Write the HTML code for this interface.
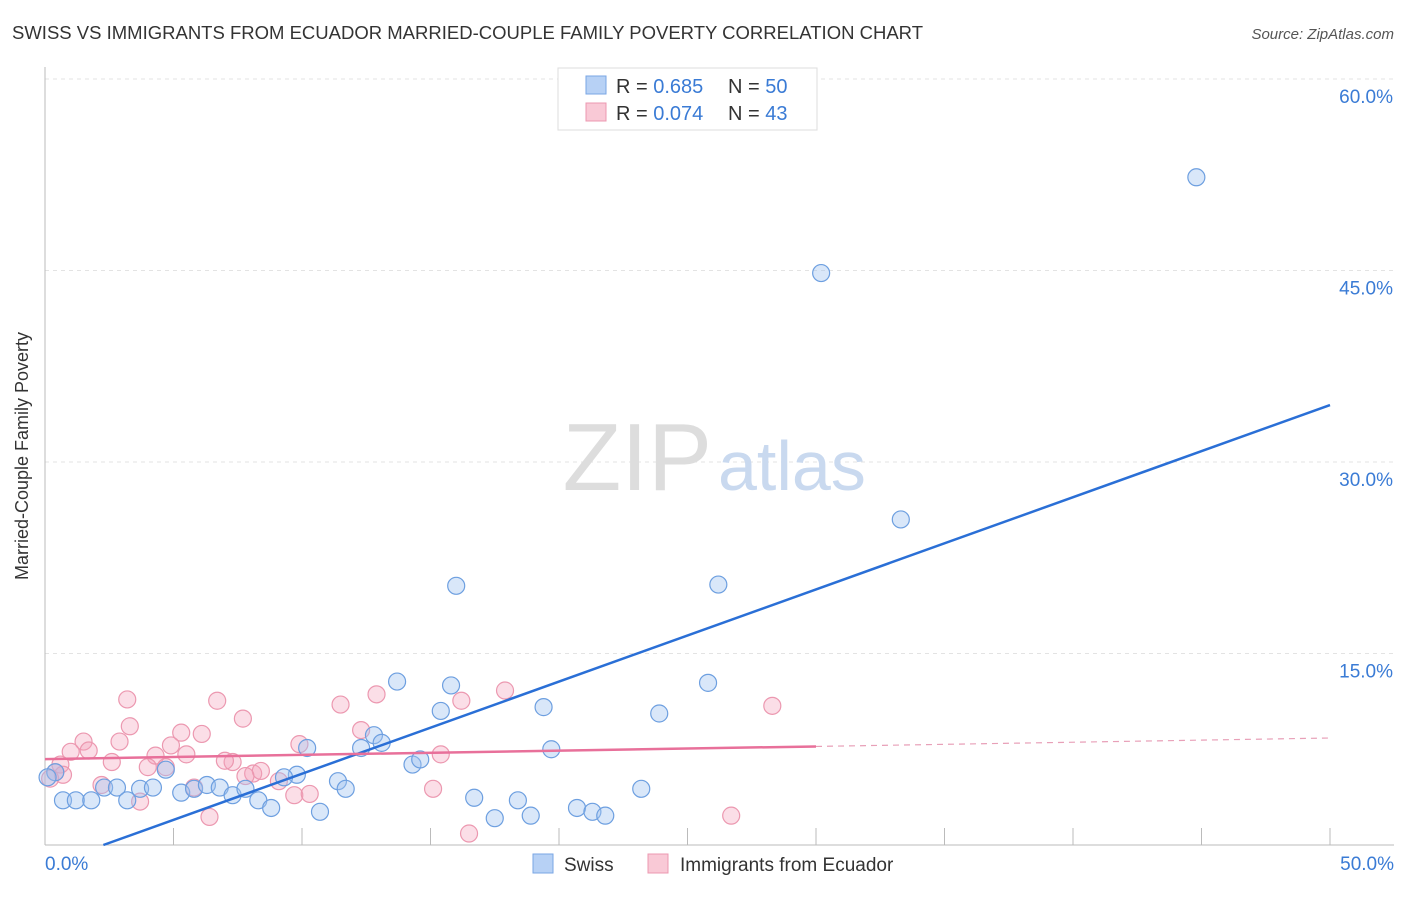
<!DOCTYPE html>
<html><head><meta charset="utf-8"><style>
body{margin:0;background:#fff;font-family:"Liberation Sans",sans-serif}
svg text{font-family:"Liberation Sans",sans-serif}
</style></head><body>
<svg width="1406" height="892">
<text x="12" y="39" font-size="18" fill="#333" textLength="911" lengthAdjust="spacingAndGlyphs">SWISS VS IMMIGRANTS FROM ECUADOR MARRIED-COUPLE FAMILY POVERTY CORRELATION CHART</text>
<text x="1394" y="39" font-size="15" fill="#555" font-style="italic" text-anchor="end">Source: ZipAtlas.com</text>
<g id="grid"></g>
<text x="712" y="490" font-size="96" fill="#ddd" font-family="Liberation Serif" text-anchor="end">ZIP</text>
<text x="718" y="490" font-size="70" fill="#c9d9ef">atlas</text>
<g id="marks"></g>
<text x="28" y="456" font-size="18" fill="#333" text-anchor="middle" transform="rotate(-90 28 456)">Married-Couple Family Poverty</text>
<g>
<rect x="558" y="68" width="259" height="62" fill="#fff" stroke="#ddd"/>
<rect x="586" y="76" width="20" height="18" fill="#b7d1f5" stroke="#7aa6e4"/>
<text x="616" y="93" font-size="20" fill="#333">R = <tspan fill="#3a7bd5">0.685</tspan></text>
<text x="728" y="93" font-size="20" fill="#333">N = <tspan fill="#3a7bd5">50</tspan></text>
<rect x="586" y="103" width="20" height="18" fill="#f9c9d6" stroke="#ec98b0"/>
<text x="616" y="120" font-size="20" fill="#333">R = <tspan fill="#3a7bd5">0.074</tspan></text>
<text x="728" y="120" font-size="20" fill="#333">N = <tspan fill="#3a7bd5">43</tspan></text>
</g>
<g>
<rect x="533" y="854" width="20" height="19" fill="#b7d1f5" stroke="#7aa6e4"/>
<text x="564" y="871" font-size="19" fill="#333">Swiss</text>
<rect x="648" y="854" width="20" height="19" fill="#f9c9d6" stroke="#ec98b0"/>
<text x="680" y="871" font-size="19" fill="#333">Immigrants from Ecuador</text>
</g>
</svg>
<script>
const yTicks=[15,30,45,60];
const yTickLabels=["15.0%","30.0%","45.0%","60.0%"];
const xEndLabels=["0.0%","50.0%"];
const swissX=[44.8,30.2,33.3,16.0,26.2,13.7,15.8,25.8,15.4,19.4,23.9,12.8,13.1,10.2,12.3,19.7,14.3,14.6,4.7,9.8,9.3,11.4,11.7,23.2,0.4,0.1,0.7,1.2,1.8,2.3,2.8,3.2,3.7,4.2,5.3,5.8,6.3,6.8,7.3,7.8,8.3,8.8,10.7,16.7,18.4,17.5,18.9,20.7,21.3,21.8];
const swissY=[52.3,44.8,25.5,20.3,20.4,12.8,12.5,12.7,10.5,10.8,10.3,8.6,8.0,7.6,7.6,7.5,6.3,6.7,5.9,5.5,5.3,5.0,4.4,4.4,5.7,5.3,3.5,3.5,3.5,4.5,4.5,3.5,4.4,4.5,4.1,4.4,4.7,4.5,3.9,4.4,3.5,2.9,2.6,3.7,3.5,2.1,2.3,2.9,2.6,2.3];
const ecuX=[3.2,6.7,7.7,11.5,12.9,17.9,16.2,28.3,3.3,5.3,6.1,1.5,1.0,1.7,2.9,4.9,2.6,4.3,5.5,4.0,4.7,7.3,8.1,8.4,9.9,12.3,15.4,0.6,0.7,0.2,2.2,5.8,3.7,9.7,10.3,9.1,7.8,15.1,6.4,16.5,26.7,0.4,7.0];
const ecuY=[11.4,11.3,9.9,11.0,11.8,12.1,11.3,10.9,9.3,8.8,8.7,8.1,7.3,7.4,8.1,7.8,6.5,7.0,7.1,6.1,6.1,6.5,5.6,5.8,7.9,9.0,7.1,6.3,5.5,5.2,4.7,4.5,3.4,3.9,4.0,5.0,5.4,4.4,2.2,0.9,2.3,5.7,6.6];
const swissTrend=[-1.64,34.46];
const ecuTrend=[6.73,8.38];
const X=v=>45+v/50*1285, Y=v=>845-v*12.767;
const NS="http://www.w3.org/2000/svg";
function mk(t,a,p){const e=document.createElementNS(NS,t);for(const k in a)e.setAttribute(k,a[k]);p.appendChild(e);return e;}
const g=document.getElementById('grid'), m=document.getElementById('marks');
yTicks.forEach((t,i)=>{
 const l=mk('line',{x1:45,x2:1394,y1:Y(t),y2:Y(t),stroke:'#e3e3e3','stroke-dasharray':'4,4'},g);
 
 
 const tx=mk('text',{x:1393,y:Y(t)+24,'font-size':19,fill:'#3a7bd5','text-anchor':'end'},g);tx.textContent=yTickLabels[i];
 
 
});
let ax=mk('line',{x1:45,x2:45,y1:67,y2:845,stroke:'#bbb'},g);


ax=mk('line',{x1:45,x2:1394,y1:845,y2:845,stroke:'#bbb'},g);


for(let i=1;i<=10;i++){const t=mk('line',{x1:X(i*5),x2:X(i*5),y1:828,y2:845,stroke:'#bbb'},g);
 
 }
[[0,'start',45],[50,'end',1394]].forEach((d,i)=>{const t=mk('text',{x:d[2],y:870,'font-size':19,fill:'#3a7bd5','text-anchor':d[1]},g);t.textContent=xEndLabels[i];
 
 });
ecuX.forEach((v,i)=>{const c=mk('circle',{cx:X(v),cy:Y(ecuY[i]),r:8.5,fill:'rgba(244,160,186,0.35)',stroke:'#ec98b0','stroke-width':1.2},m);
 
 });
swissX.forEach((v,i)=>{const c=mk('circle',{cx:X(v),cy:Y(swissY[i]),r:8.5,fill:'rgba(160,196,240,0.4)',stroke:'#6d9fe0','stroke-width':1.2},m);
 
 });
const sx0=(0-swissTrend[0])/(swissTrend[1]-swissTrend[0])*50;
let l=mk('line',{x1:X(sx0),y1:Y(0),x2:X(50),y2:Y(swissTrend[1]),stroke:'#2a6fd6','stroke-width':2.5},m);


const ey=x=>ecuTrend[0]+(ecuTrend[1]-ecuTrend[0])*x/50;
l=mk('line',{x1:X(0),y1:Y(ey(0)),x2:X(30),y2:Y(ey(30)),stroke:'#e8709a','stroke-width':2.5},m);


l=mk('line',{x1:X(30),y1:Y(ey(30)),x2:X(50),y2:Y(ey(50)),stroke:'#e8a0b8','stroke-width':1.2,'stroke-dasharray':'6,5'},m);


</script>
</body></html>
